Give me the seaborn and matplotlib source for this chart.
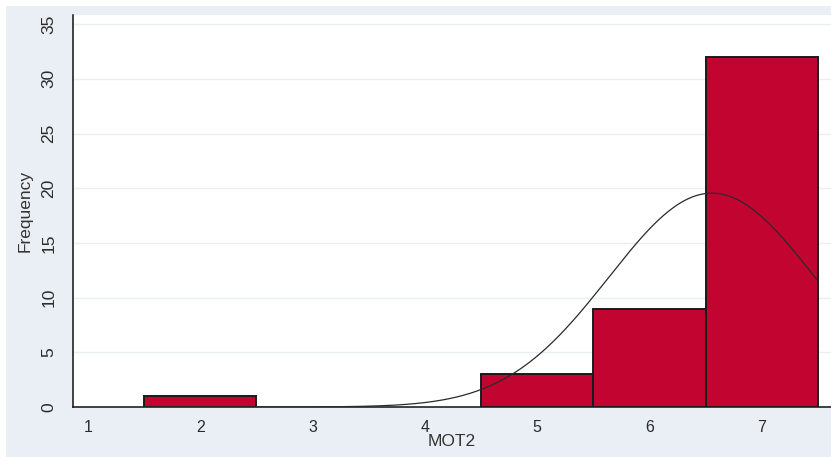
import numpy as np
import pandas as pd
import matplotlib
matplotlib.use("Agg")
import matplotlib.pyplot as plt
from matplotlib.patches import Rectangle
import seaborn as sns

# Response values of MOT2 and how often each occurred
mot2_values = [2, 3, 4, 5, 6, 7]
mot2_counts = [1, 0, 0, 3, 9, 32]

y_ticks = [0, 5, 10, 15, 20, 25, 30, 35]
x_ticks = [1, 2, 3, 4, 5, 6, 7]

sns.set_theme(style="white")
plt.rcParams["font.family"] = ["Liberation Sans", "DejaVu Sans"]

W, H = 831, 457
fig = plt.figure(figsize=(W / 100, H / 100), dpi=100)
fig.patch.set_facecolor("#EAEFF5")
# thin white margin on top and left of the graph region
fig.patches.append(Rectangle((0, 1 - 6 / H), 1, 6 / H, transform=fig.transFigure,
                             facecolor="white", edgecolor="none", zorder=0))
fig.patches.append(Rectangle((0, 0), 6 / W, 1, transform=fig.transFigure,
                             facecolor="white", edgecolor="none", zorder=0))

left, right, top, bottom = 73, 831, 15, 407
ax = fig.add_axes([left / W, (H - bottom) / H, (right - left) / W, (bottom - top) / H])
ax.set_facecolor("white")

df = pd.DataFrame({"MOT2": mot2_values, "count": mot2_counts})
sns.histplot(data=df, x="MOT2", weights="count", discrete=True, ax=ax,
             color="#C10430", alpha=1.0, edgecolor="#1a1a1a", linewidth=1.4, zorder=3)
# empty bins leave no outline on the axis
for p in ax.patches:
    if p.get_height() == 0:
        p.set_visible(False)

# Fitted normal density scaled to frequency (N * bin width * pdf)
vals = np.repeat(mot2_values, mot2_counts).astype(float)
n = len(vals)
mu = vals.mean()
sd = vals.std(ddof=1)
xs = np.linspace(1.5, 7.5, 400)
dens = n * 1.0 * np.exp(-0.5 * ((xs - mu) / sd) ** 2) / (sd * np.sqrt(2 * np.pi))
sns.lineplot(x=xs, y=dens, ax=ax, color="#2a2a2a", linewidth=0.9, zorder=4)

x_per_unit = 112.3
x1_px = 88
ax.set_xlim(1 - (x1_px - left) / x_per_unit, 1 + (right - x1_px) / x_per_unit)
y_per_unit = 10.94
ax.set_ylim(0, (bottom - top) / y_per_unit)

ax.set_xticks(x_ticks)
ax.set_yticks(y_ticks)
ax.yaxis.grid(True, color="#E9EFF3", linewidth=1.0, zorder=0)
ax.set_axisbelow(True)

for s in ["top", "right"]:
    ax.spines[s].set_visible(False)
for s in ["left", "bottom"]:
    ax.spines[s].set_color("#111111")
    ax.spines[s].set_linewidth(1.1)

ax.tick_params(axis="both", which="both", direction="out", length=5, width=1.0,
               color="#111111", labelcolor="#2b2b2b", labelsize=11.5)
ax.tick_params(axis="y", pad=6, labelsize=12.5, length=6)
ax.tick_params(axis="x", pad=4)
for lab in ax.get_yticklabels():
    lab.set_rotation(90)
    lab.set_va("center")

ax.set_xlabel("MOT2", fontsize=12.5, color="#333333", labelpad=0)
ax.set_ylabel("Frequency", fontsize=12.5, color="#333333", labelpad=6)

fig.savefig("out.png", dpi=100, facecolor=fig.get_facecolor())
